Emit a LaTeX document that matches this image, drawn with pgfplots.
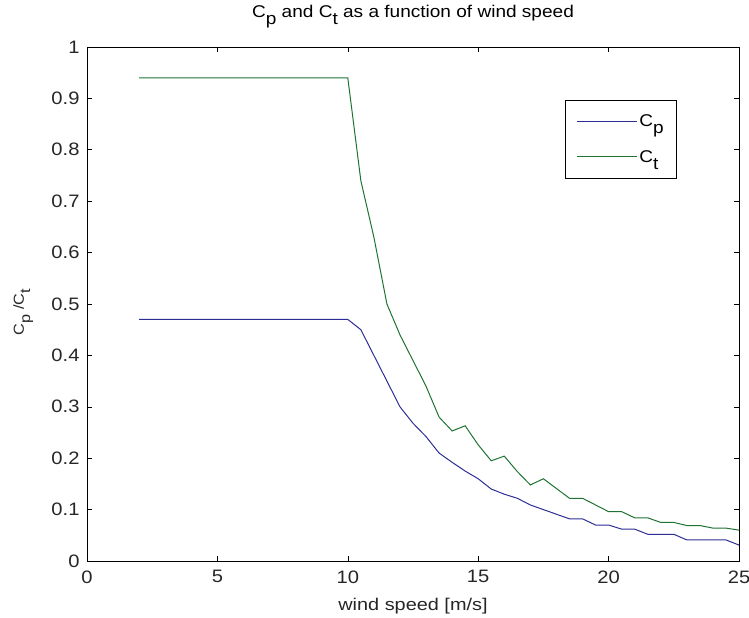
\documentclass[border=0pt]{standalone}
\usepackage{fontspec}
\setmainfont{Liberation Sans}[FakeStretch=1.12]
\newfontfamily\widefont{Liberation Sans}[FakeStretch=1.17]
\usepackage{pgfplots}
\pgfplotsset{compat=1.18}
\definecolor{mblue}{RGB}{45,45,150}
\definecolor{mgreen}{RGB}{30,115,50}
\newcommand\sub[1]{\raisebox{-0.42em}{#1}}
\begin{document}
\begin{tikzpicture}
\useasboundingbox (-87bp,-57bp) rectangle (662bp,561bp);
\begin{axis}[
  scale only axis,
  width=652bp, height=514bp,
  xmin=0, xmax=25, ymin=0, ymax=1,
  xtick={0,5,...,25},
  ytick={0,0.1,...,1.0},
  yticklabels={0,0.1,0.2,0.3,0.4,0.5,0.6,0.7,0.8,0.9,1},
  major tick length=5bp,
  tick style={black, line width=0.6pt},
  axis line style={black, line width=0.9pt},
  /pgf/number format/assume math mode=true,
  tick label style={font=\fontsize{18bp}{20bp}\selectfont, text=black!85},
  xticklabel style={yshift=-6bp},
  yticklabel style={xshift=-4bp},
  title={C\sub{p} and C\sub{t} as a function of wind speed},
  title style={at={(rel axis cs:0.5,1)}, anchor=base, yshift=24bp, font=\fontsize{17bp}{19bp}\selectfont},
  xlabel={wind speed [m/s]},
  xlabel style={at={(rel axis cs:0.5,0)}, anchor=base, yshift=-49bp, font=\widefont\fontsize{17bp}{19bp}\selectfont, text=black!85},
  legend style={at={(0.733,0.897)}, anchor=north west, draw=black, line width=0.8pt,
    font=\fontsize{17bp}{19bp}\selectfont, row sep=18bp, inner xsep=11bp, inner ysep=12.5bp},
  legend cell align=left,
  legend image code/.code={\draw[#1, line width=1pt] (0bp,0bp) -- (60bp,0bp);},
]
\addplot[mblue, line width=1pt] coordinates {
(2,0.47) (10,0.47) (10.5,0.45) (11,0.40) (11.5,0.35) (12,0.30) (12.5,0.268) (13,0.242)
(13.5,0.21) (14,0.192) (14.5,0.175) (15,0.16) (15.5,0.14) (16,0.13) (16.5,0.122)
(17,0.109) (17.5,0.10) (18,0.091) (18.5,0.082) (19,0.082) (19.5,0.07) (20,0.07)
(20.5,0.062) (21,0.062) (21.5,0.052) (22,0.052) (22.5,0.052) (23,0.041) (23.5,0.041)
(24,0.041) (24.5,0.041) (25,0.031)
};
\addlegendentry{C\sub{p}}
\addplot[mgreen, line width=1pt] coordinates {
(2,0.94) (10,0.94) (10.5,0.74) (11,0.63) (11.5,0.50) (12,0.44) (12.5,0.39) (13,0.34)
(13.5,0.28) (14,0.253) (14.5,0.263) (15,0.226) (15.5,0.195) (16,0.204) (16.5,0.174)
(17,0.148) (17.5,0.16) (18,0.141) (18.5,0.122) (19,0.122) (19.5,0.109) (20,0.096)
(20.5,0.096) (21,0.084) (21.5,0.084) (22,0.075) (22.5,0.075) (23,0.069) (23.5,0.069)
(24,0.064) (24.5,0.064) (25,0.06)
};
\addlegendentry{C\sub{t}}
\end{axis}
\node[rotate=90, anchor=base, font=\fontsize{14.5bp}{16bp}\selectfont, text=black!85] at ([xshift=-63bp,yshift=-8bp]current axis.west) {C\sub{p} /C\sub{t}};
\end{tikzpicture}
\end{document}
